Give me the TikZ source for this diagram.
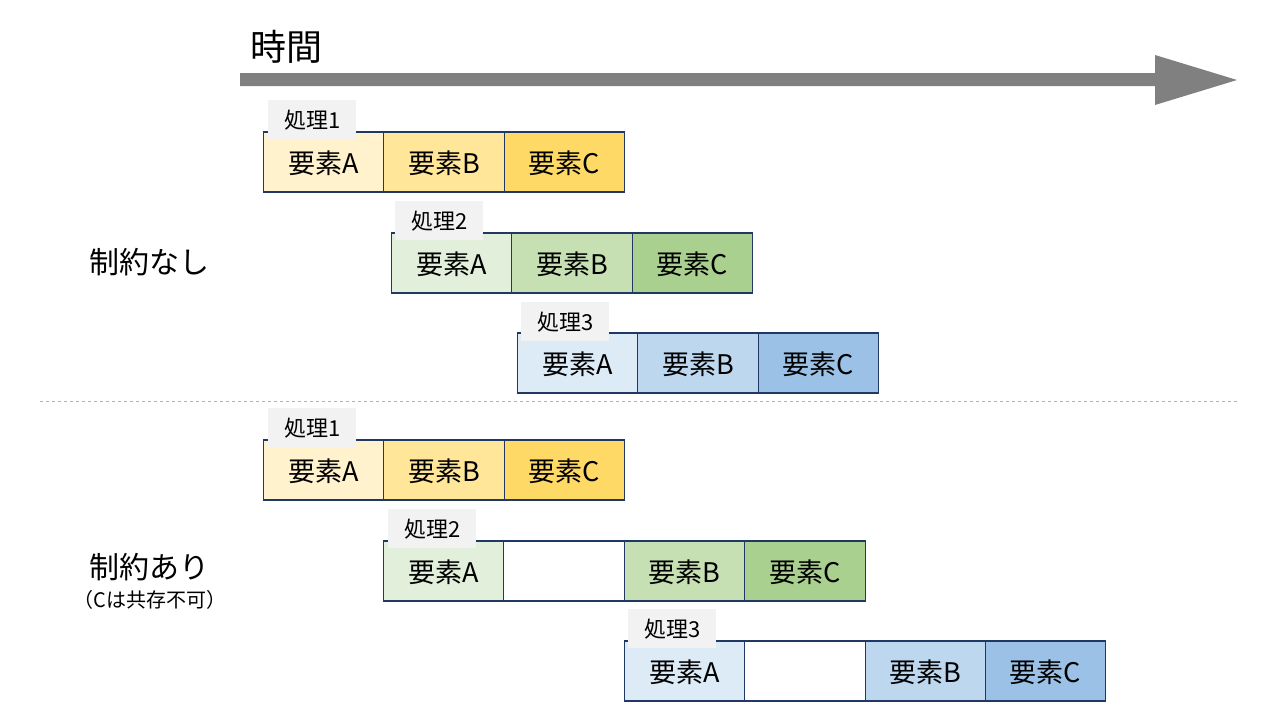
\documentclass[tikz,border=0pt]{standalone}
\usepackage{fontspec}
\setmainfont{Noto Sans CJK JP}
\definecolor{navy}{HTML}{1F3864}
\definecolor{tabgray}{HTML}{F2F2F2}
\definecolor{ya}{HTML}{FFF2CC}
\definecolor{yb}{HTML}{FFE699}
\definecolor{yc}{HTML}{FFD966}
\definecolor{ga}{HTML}{E2EFDA}
\definecolor{gb}{HTML}{C6E0B4}
\definecolor{gc}{HTML}{A9D08E}
\definecolor{ba}{HTML}{DDEBF7}
\definecolor{bb}{HTML}{BDD7EE}
\definecolor{bc}{HTML}{9BC2E6}
\definecolor{arrowgray}{HTML}{808080}
\begin{document}
\begin{tikzpicture}[x=1pt,y=-1pt,
  cell/.style={draw=navy, line width=1.1pt, minimum width=120.5pt, minimum height=60pt, inner sep=0pt, text depth=0pt, font=\fontsize{27}{27}\selectfont},
  tab/.style={fill=tabgray, minimum width=88pt, minimum height=39pt, inner sep=0pt, anchor=north west, font=\fontsize{22}{22}\selectfont},
  side/.style={font=\fontsize{30}{30}\selectfont}]
\useasboundingbox (0,0) rectangle (1280,720);
\fill[white] (0,0) rectangle (1280,720);
% time arrow
\node[font=\fontsize{36}{36}\selectfont] (time) at (286,47) {時間};
\fill[arrowgray] (240,73) -- (1155,73) -- (1155,55) -- (1237,80) -- (1155,105) -- (1155,86) -- (240,86) -- cycle;
% divider
\draw[gray!60, dashed, line width=0.8pt] (40,401) -- (1237,401);
% side labels
\node[side] (none) at (149,262) {制約なし};
\node[side] (with) at (149,567) {制約あり};
\node[font=\fontsize{20}{20}\selectfont] (note) at (150,600) {（Cは共存不可）};
% row 1
\node[cell, fill=ya] (r1a) at (323.5,162) {要素A};
\node[cell, fill=yb] (r1b) at (444,162) {要素B};
\node[cell, fill=yc] (r1c) at (564.5,162) {要素C};
\node[tab] (t1) at (268,100) {処理1};
% row 2
\node[cell, fill=ga] (r2a) at (451.5,263) {要素A};
\node[cell, fill=gb] (r2b) at (572,263) {要素B};
\node[cell, fill=gc] (r2c) at (692.5,263) {要素C};
\node[tab] (t2) at (395,201) {処理2};
% row 3
\node[cell, fill=ba] (r3a) at (577.5,363) {要素A};
\node[cell, fill=bb] (r3b) at (698,363) {要素B};
\node[cell, fill=bc] (r3c) at (818.5,363) {要素C};
\node[tab] (t3) at (521,302) {処理3};
% row 4
\node[cell, fill=ya] (r4a) at (323.5,470) {要素A};
\node[cell, fill=yb] (r4b) at (444,470) {要素B};
\node[cell, fill=yc] (r4c) at (564.5,470) {要素C};
\node[tab] (t4) at (268,408) {処理1};
% row 5
\node[cell, fill=ga] (r5a) at (443.5,571) {要素A};
\node[cell, fill=white] (r5e) at (564,571) {};
\node[cell, fill=gb] (r5b) at (684.5,571) {要素B};
\node[cell, fill=gc] (r5c) at (805,571) {要素C};
\node[tab] (t5) at (388,509) {処理2};
% row 6
\node[cell, fill=ba] (r6a) at (684.5,671) {要素A};
\node[cell, fill=white] (r6e) at (805,671) {};
\node[cell, fill=bb] (r6b) at (925.5,671) {要素B};
\node[cell, fill=bc] (r6c) at (1045.5,671) {要素C};
\node[tab] (t6) at (628,609) {処理3};
\end{tikzpicture}
\end{document}
